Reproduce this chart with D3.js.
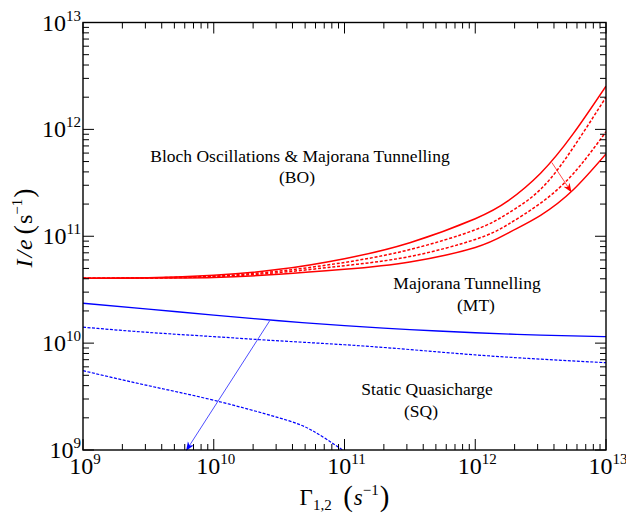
<!DOCTYPE html>
<html>
<head>
<meta charset="utf-8">
<script src="https://cdn.jsdelivr.net/npm/d3@7"></script>
<style>
  body { margin: 0; background: #fff; }
  svg { display: block; font-family: "Liberation Serif", "Times New Roman", serif; }
</style>
</head>
<body>
<svg id="chart"></svg>
<script>
// x samples, Gamma_{1,2} (s^-1)
var gamma = [1e9, 3.16e9, 1e10, 3.16e10, 1e11, 3.16e11, 1e12, 1.78e12, 3.16e12, 5.62e12, 1e13];
// red boundary BO / MT (outer solid, inner dashed)
var boUpper  = [4.05e10, 4.1e10, 4.32e10, 4.9e10, 6.17e10, 8.71e10, 1.46e11, 2.14e11, 3.89e11, 9.12e11, 2.54e12];
var boDash1  = [4.05e10, 4.08e10, 4.24e10, 4.72e10, 5.69e10, 7.5e10, 1.15e11, 1.64e11, 2.75e11, 6.76e11, 2.0e12];
var boDash2  = [4.05e10, 4.07e10, 4.19e10, 4.57e10, 5.31e10, 6.46e10, 9.33e10, 1.29e11, 2.04e11, 3.85e11, 9.5e11];
var boLower  = [4.05e10, 4.06e10, 4.12e10, 4.4e10, 4.9e10, 5.75e10, 7.85e10, 1.07e11, 1.57e11, 2.72e11, 5.89e11];

// blue boundary MT / SQ
var gammaBlue = [1e9, 3.16e9, 1e10, 3.16e10, 1e11, 3.16e11, 1e12, 3.16e12, 1e13];
var sqSolid   = [2.36e10, 2.08e10, 1.83e10, 1.62e10, 1.46e10, 1.34e10, 1.25e10, 1.19e10, 1.15e10];
var sqDash1   = [1.41e10, 1.26e10, 1.15e10, 1.05e10, 9.66e9, 8.71e9, 7.76e9, 7.08e9, 6.56e9];
var gammaBlue2 = [1e9, 3.16e9, 1e10, 3.16e10, 5.62e10, 9.66e10];
var sqDash2    = [5.52e9, 4.0e9, 2.92e9, 2.0e9, 1.53e9, 1.0e9];

// arrows [x0, y0, x1, y1]
var redArrow  = [3.85e12, 4.9e11, 5.4e12, 2.62e11];
var blueArrow = [2.68e10, 1.62e10, 6.2e9, 1.0e9];

var xTicks = [1e9, 1e10, 1e11, 1e12, 1e13];
var yTicks = [1e9, 1e10, 1e11, 1e12, 1e13];

var width = 626, height = 516;
var plot = { left: 83, right: 606, top: 22.5, bottom: 450 };

var svg = d3.select('#chart')
    .attr('width', width)
    .attr('height', height);

var x = d3.scaleLog().domain([1e9, 1e13]).range([plot.left, plot.right]);
var y = d3.scaleLog().domain([1e9, 1e13]).range([plot.bottom, plot.top]);

var defs = svg.append('defs');
defs.append('clipPath').attr('id', 'clip')
  .append('rect')
    .attr('x', plot.left).attr('y', plot.top)
    .attr('width', plot.right - plot.left)
    .attr('height', plot.bottom - plot.top);

var line = d3.line()
    .x(function(d) { return x(d[0]); })
    .y(function(d) { return y(d[1]); })
    .curve(d3.curveNatural);

function zip(xs, ys) {
  return xs.map(function(v, i) { return [v, ys[i]]; });
}

var curves = [
  { xs: gamma, ys: boUpper, color: '#ff0000', dash: null, w: 1.5 },
  { xs: gamma, ys: boDash1, color: '#ff0000', dash: '3,1.8', w: 1.5 },
  { xs: gamma, ys: boDash2, color: '#ff0000', dash: '3,1.8', w: 1.5 },
  { xs: gamma, ys: boLower, color: '#ff0000', dash: null, w: 1.5 },
  { xs: gammaBlue, ys: sqSolid, color: '#0000ff', dash: null, w: 1.3 },
  { xs: gammaBlue, ys: sqDash1, color: '#0000ff', dash: '3,1.5', w: 1.2 },
  { xs: gammaBlue2, ys: sqDash2, color: '#0000ff', dash: '3,1.5', w: 1.2 }
];

var g = svg.append('g').attr('clip-path', 'url(#clip)');

g.selectAll('path.curve')
  .data(curves)
  .enter()
  .append('path')
    .attr('class', 'curve')
    .attr('d', function(d) { return line(zip(d.xs, d.ys)); })
    .attr('fill', 'none')
    .attr('stroke', function(d) { return d.color; })
    .attr('stroke-width', function(d) { return d.w; })
    .attr('stroke-dasharray', function(d) { return d.dash; });

// arrow heads
[['red', '#ff0000'], ['blue', '#0000ff']].forEach(function(c) {
  defs.append('marker')
      .attr('id', 'head-' + c[0])
      .attr('viewBox', '0 0 10 10')
      .attr('refX', 9).attr('refY', 5)
      .attr('markerWidth', 9).attr('markerHeight', 9)
      .attr('markerUnits', 'userSpaceOnUse')
      .attr('orient', 'auto')
    .append('path')
      .attr('d', 'M0,1 L10,5 L0,9 L3,5 Z')
      .attr('fill', c[1]);
});

svg.append('line')
    .attr('x1', x(redArrow[0])).attr('y1', y(redArrow[1]))
    .attr('x2', x(redArrow[2])).attr('y2', y(redArrow[3]))
    .attr('stroke', '#ff0000').attr('stroke-width', 0.7)
    .attr('marker-end', 'url(#head-red)');

svg.append('line')
    .attr('x1', x(blueArrow[0])).attr('y1', y(blueArrow[1]))
    .attr('x2', x(blueArrow[2])).attr('y2', y(blueArrow[3]))
    .attr('stroke', '#0000ff').attr('stroke-width', 0.7)
    .attr('marker-end', 'url(#head-blue)');

// frame
svg.append('rect')
    .attr('x', plot.left).attr('y', plot.top)
    .attr('width', plot.right - plot.left)
    .attr('height', plot.bottom - plot.top)
    .attr('fill', 'none')
    .attr('stroke', '#000')
    .attr('stroke-width', 1.4);

// ticks on all four sides, pointing inward
var ticks = [];
for (var k = 9; k < 13; k++) {
  for (var m = 1; m < 10; m++) ticks.push({ v: m * Math.pow(10, k), major: m === 1 });
}
ticks.push({ v: 1e13, major: true });

var tg = svg.append('g').attr('stroke', '#000').attr('stroke-width', 1);
ticks.forEach(function(t) {
  var len = t.major ? 11 : 6;
  var px = x(t.v), py = y(t.v);
  tg.append('line').attr('x1', px).attr('x2', px).attr('y1', plot.bottom).attr('y2', plot.bottom - len);
  tg.append('line').attr('x1', px).attr('x2', px).attr('y1', plot.top).attr('y2', plot.top + len);
  tg.append('line').attr('y1', py).attr('y2', py).attr('x1', plot.left).attr('x2', plot.left + len);
  tg.append('line').attr('y1', py).attr('y2', py).attr('x1', plot.right).attr('x2', plot.right - len);
});

function powLabel(sel, v) {
  sel.append('tspan').text('10');
  sel.append('tspan')
      .attr('font-size', 15)
      .attr('dy', -10)
      .text(Math.round(Math.log10(v)));
}

svg.selectAll('text.xtick')
  .data(xTicks)
  .enter()
  .append('text')
    .attr('class', 'xtick')
    .attr('x', function(d) { return x(d) + 2; })
    .attr('y', 474)
    .attr('font-size', 24)
    .attr('text-anchor', 'middle')
    .each(function(d) { powLabel(d3.select(this), d); });

svg.selectAll('text.ytick')
  .data(yTicks)
  .enter()
  .append('text')
    .attr('class', 'ytick')
    .attr('x', 81)
    .attr('y', function(d) { return y(d) + 8; })
    .attr('font-size', 24)
    .attr('text-anchor', 'end')
    .each(function(d) { powLabel(d3.select(this), d); });

// axis titles
var xl = svg.append('text')
    .attr('x', (plot.left + plot.right) / 2)
    .attr('y', 505)
    .attr('font-size', 23)
    .attr('text-anchor', 'middle');
xl.append('tspan').text('\u0393');
xl.append('tspan').attr('font-size', 15).attr('dy', 5).text('1,2');
xl.append('tspan').attr('dy', -5).text('\u2002');
xl.append('tspan').attr('font-size', 29).attr('dy', 1).text('(');
xl.append('tspan').attr('font-style', 'italic').attr('dy', -1).attr('dx', 1).text('s');
xl.append('tspan').attr('font-size', 15).attr('dy', -10).text('\u22121');
xl.append('tspan').attr('font-size', 29).attr('dy', 11).attr('dx', 1).text(')');

var yl = svg.append('text')
    .attr('transform', 'translate(32,' + 228 + ') rotate(-90)')
    .attr('font-size', 24)
    .attr('text-anchor', 'middle');
yl.append('tspan').attr('font-style', 'italic').text('I');
yl.append('tspan').attr('font-style', 'italic').attr('dx', 2).text('/');
yl.append('tspan').attr('font-style', 'italic').attr('dx', 1).text('e');
yl.append('tspan').text('\u2009');
yl.append('tspan').attr('font-size', 28).attr('dy', 1).text('(');
yl.append('tspan').attr('dy', -1).attr('dx', 1).text('s');
yl.append('tspan').attr('font-size', 15).attr('dy', -10).text('\u22121');
yl.append('tspan').attr('font-size', 28).attr('dy', 11).attr('dx', 1).text(')');

// region labels
var regions = [
  { t: 'Bloch Oscillations & Majorana Tunnelling', x: 300, y: 162 },
  { t: '(BO)', x: 297, y: 183 },
  { t: 'Majorana Tunnelling', x: 467, y: 289 },
  { t: '(MT)', x: 476, y: 311 },
  { t: 'Static Quasicharge', x: 427, y: 395 },
  { t: '(SQ)', x: 421, y: 416.5 }
];
svg.selectAll('text.region')
  .data(regions)
  .enter()
  .append('text')
    .attr('class', 'region')
    .attr('x', function(d) { return d.x; })
    .attr('y', function(d) { return d.y; })
    .attr('font-size', 17.5)
    .attr('text-anchor', 'middle')
    .text(function(d) { return d.t; });
</script>
</body>
</html>
